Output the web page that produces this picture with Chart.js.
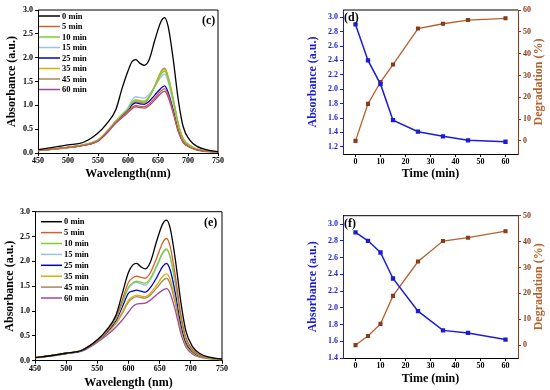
<!DOCTYPE html>
<html lang="en">
<head>
<meta charset="UTF-8">
<title>Absorbance and degradation</title>
<style>
  body{margin:0;background:#fff;}
  #wrap{position:relative;width:550px;height:390px;}
  canvas{position:absolute;}
</style>
</head>
<body>
<div id="wrap">
  <canvas id="c" width="275" height="195" style="left:0;top:0"></canvas>
  <canvas id="d" width="275" height="195" style="left:275px;top:0"></canvas>
  <canvas id="e" width="275" height="195" style="left:0;top:195px"></canvas>
  <canvas id="f" width="275" height="195" style="left:275px;top:195px"></canvas>
</div>
<script src="https://cdn.jsdelivr.net/npm/chart.js"></script>
<script>
// wavelengths (nm) where the spectra were read
const wl = [450,475,500,525,550,565,580,590,600,607,613,620,627,635,645,655,661,667,675,684,692,703,715,730,750]
const legendLabels = ['0 min','5 min','10 min','15 min','25 min','35 min','45 min','60 min']
const lineColors = ['#000000','#d2602a','#7ccf30','#9cc2ea','#0000d0','#d9b000','#a88662','#a0489a']

// panel (c)
const c0  = [0.07,0.12,0.17,0.22,0.42,0.62,0.92,1.35,1.72,1.92,1.96,1.88,1.84,1.95,2.38,2.76,2.84,2.65,2.00,1.10,0.55,0.27,0.14,0.07,0.03]
const c5  = [0.05,0.08,0.12,0.16,0.26,0.44,0.65,0.76,0.87,0.96,1.00,0.98,0.97,1.03,1.16,1.30,1.35,1.22,0.88,0.46,0.23,0.12,0.07,0.04,0.02]
const c10 = [0.05,0.08,0.12,0.17,0.27,0.45,0.67,0.80,0.92,1.07,1.12,1.10,1.09,1.18,1.40,1.65,1.72,1.55,1.12,0.58,0.29,0.15,0.08,0.04,0.02]
const c15 = [0.05,0.08,0.12,0.17,0.28,0.46,0.68,0.82,0.95,1.12,1.18,1.16,1.15,1.23,1.40,1.60,1.66,1.49,1.08,0.56,0.28,0.15,0.08,0.04,0.02]
const c25 = [0.05,0.08,0.12,0.16,0.26,0.44,0.66,0.78,0.90,1.01,1.05,1.03,1.02,1.08,1.22,1.36,1.41,1.27,0.92,0.48,0.24,0.13,0.07,0.04,0.02]
const c35 = [0.05,0.08,0.12,0.17,0.27,0.45,0.67,0.79,0.91,1.05,1.10,1.08,1.07,1.17,1.42,1.69,1.76,1.58,1.14,0.60,0.30,0.16,0.08,0.04,0.02]
const c45 = [0.05,0.08,0.12,0.17,0.27,0.45,0.66,0.78,0.90,1.03,1.08,1.06,1.05,1.16,1.42,1.71,1.78,1.60,1.16,0.61,0.30,0.16,0.08,0.04,0.02]
const c60 = [0.05,0.08,0.11,0.16,0.25,0.42,0.63,0.74,0.85,0.93,0.97,0.95,0.94,0.99,1.12,1.25,1.30,1.17,0.85,0.44,0.22,0.12,0.06,0.03,0.02]

// panel (e)
const e0  = [0.06,0.10,0.15,0.21,0.42,0.62,0.92,1.35,1.78,1.93,1.96,1.89,1.85,1.98,2.40,2.76,2.83,2.66,2.05,1.18,0.60,0.28,0.14,0.07,0.03]
const e5  = [0.06,0.10,0.15,0.21,0.41,0.60,0.88,1.22,1.58,1.67,1.70,1.68,1.66,1.77,2.06,2.38,2.46,2.29,1.72,0.93,0.47,0.22,0.11,0.06,0.03]
const e10 = [0.06,0.10,0.15,0.21,0.41,0.59,0.85,1.16,1.48,1.57,1.60,1.58,1.56,1.66,1.91,2.18,2.25,2.09,1.58,0.86,0.43,0.20,0.10,0.05,0.03]
const e15 = [0.06,0.10,0.15,0.21,0.41,0.59,0.85,1.15,1.46,1.55,1.58,1.55,1.52,1.63,1.88,2.16,2.23,2.07,1.56,0.85,0.42,0.20,0.10,0.05,0.03]
const e25 = [0.06,0.10,0.15,0.20,0.40,0.57,0.81,1.08,1.36,1.40,1.42,1.40,1.38,1.47,1.67,1.90,1.96,1.82,1.37,0.74,0.37,0.18,0.09,0.05,0.03]
const e35 = [0.06,0.10,0.15,0.20,0.39,0.55,0.76,0.98,1.22,1.29,1.32,1.30,1.29,1.36,1.52,1.70,1.75,1.63,1.23,0.67,0.33,0.16,0.08,0.04,0.02]
const e45 = [0.06,0.10,0.15,0.20,0.39,0.55,0.75,0.95,1.18,1.26,1.29,1.27,1.26,1.32,1.46,1.61,1.66,1.54,1.16,0.63,0.32,0.15,0.08,0.04,0.02]
const e60 = [0.06,0.09,0.14,0.19,0.37,0.51,0.68,0.82,0.98,1.09,1.14,1.15,1.16,1.22,1.33,1.42,1.45,1.35,1.02,0.55,0.28,0.13,0.07,0.04,0.02]

// panels (d) and (f)
const time = [0,5,10,15,25,35,45,60]
const dAbs = [2.90,2.40,2.07,1.57,1.41,1.345,1.29,1.27]
const dDeg = [0,17,27,35,51.5,53.7,55.4,56.2]
const fAbs = [2.90,2.80,2.66,2.35,1.96,1.73,1.70,1.62]
const fDeg = [0,3.5,8.2,19,32.3,40.2,41.5,44]

// tick labels
const nmTicks = [450,500,550,600,650,700,750]
const specTicks = [0,0.5,1.0,1.5,2.0,2.5,3.0]
const timeTicks = [0,10,20,30,40,50,60]
const dAbsTicks = [1.2,1.4,1.6,1.8,2.0,2.2,2.4,2.6,2.8,3.0]
const dDegTicks = [0,10,20,30,40,50,60]
const fAbsTicks = [1.4,1.6,1.8,2.0,2.2,2.4,2.6,2.8,3.0]
const fDegTicks = [0,10,20,30,40,50]

const serif = '"Liberation Serif", "Times New Roman", serif'
const tickFont = {family: serif, weight: 'bold', size: 8}
const titleFont = {family: serif, weight: 'bold', size: 12}
const blue = '#1c1cd6', brown = '#b5622e', brownDark = '#8b3a1a'

const extras = {
  id: 'extras',
  afterDraw(chart, args, o) {
    const ctx = chart.ctx, a = chart.chartArea
    ctx.save()
    ctx.strokeStyle = '#000'
    ctx.lineWidth = 1
    ctx.beginPath()
    ctx.moveTo(a.left, a.top)
    ctx.lineTo(a.right, a.top)
    if (o.rightLine) ctx.lineTo(a.right, a.bottom)
    ctx.stroke()
    ctx.textBaseline = 'middle'
    ctx.textAlign = 'left'
    ctx.fillStyle = '#000'
    ctx.font = 'bold 12px ' + serif
    ctx.fillText(o.tag, o.tagX, o.tagY)
    if (o.legend) {
      const L = o.legend
      ctx.font = 'bold 8.5px ' + serif
      chart.data.datasets.forEach((ds, i) => {
        const y = L.y + i * L.step
        ctx.strokeStyle = ds.borderColor
        ctx.lineWidth = 1.5
        ctx.beginPath()
        ctx.moveTo(L.x, y)
        ctx.lineTo(L.x + 21, y)
        ctx.stroke()
        ctx.fillStyle = '#000'
        ctx.fillText(ds.label, L.x + 23, y + 0.5)
      })
    }
    if (o.rightTitle) {
      ctx.translate(o.rightTitle.x, (a.top + a.bottom) / 2)
      ctx.rotate(-Math.PI / 2)
      ctx.textAlign = 'center'
      ctx.fillStyle = brown
      ctx.font = 'bold 12px ' + serif
      ctx.fillText(o.rightTitle.text, 0, 0)
    }
    ctx.restore()
  }
}

function axisGrid(color) {
  return {display: true, drawOnChartArea: false, drawTicks: true, tickLength: 3, color: color}
}

function spectrum(id, sets, o) {
  return new Chart(document.getElementById(id), {
    type: 'line',
    data: {
      datasets: sets.map((s, i) => ({
        label: legendLabels[i],
        data: wl.map((x, j) => ({x: x, y: s[j]})),
        borderColor: lineColors[i],
        borderWidth: 1.3,
        pointRadius: 0,
        cubicInterpolationMode: 'monotone',
        fill: false
      }))
    },
    options: {
      responsive: false,
      animation: false,
      layout: {padding: {top: o.top, right: o.right, left: 0, bottom: 0}},
      plugins: {
        legend: {display: false},
        tooltip: {enabled: false},
        extras: {tag: o.tag, tagX: o.tagX, tagY: o.tagY, rightLine: true, legend: o.legend}
      },
      scales: {
        x: {
          type: 'linear', min: 450, max: 750,
          afterBuildTicks: s => { s.ticks = nmTicks.map(v => ({value: v})) },
          afterFit: s => { s.height = o.xh },
          ticks: {font: tickFont, color: '#000', padding: 0, maxRotation: 0, autoSkip: false},
          grid: axisGrid('#000'),
          border: {color: '#000', width: 1},
          title: {display: true, text: o.xTitle, font: titleFont, color: '#000', padding: {top: 0, bottom: o.xPad}}
        },
        y: {
          min: 0, max: 3,
          afterBuildTicks: s => { s.ticks = specTicks.map(v => ({value: v})) },
          afterFit: s => { s.width = o.yw },
          ticks: {font: tickFont, color: '#000', padding: 2, callback: v => v.toFixed(1)},
          grid: axisGrid('#000'),
          border: {color: '#000', width: 1},
          title: {display: true, text: 'Absorbance (a.u.)', font: titleFont, color: '#000', padding: {top: o.yPad, bottom: 0}}
        }
      }
    },
    plugins: [extras]
  })
}

function timeChart(id, abs, deg, o) {
  return new Chart(document.getElementById(id), {
    type: 'line',
    data: {
      datasets: [
        {label: 'Absorbance', data: time.map((x, i) => ({x: x, y: abs[i]})), yAxisID: 'y',
         borderColor: blue, backgroundColor: blue, pointStyle: 'rect', pointRadius: 2, borderWidth: 1.5},
        {label: 'Degradation', data: time.map((x, i) => ({x: x, y: deg[i]})), yAxisID: 'y1',
         borderColor: brown, backgroundColor: brownDark, pointBorderColor: brownDark, pointStyle: 'rect', pointRadius: 2, borderWidth: 1.3}
      ]
    },
    options: {
      responsive: false,
      animation: false,
      layout: {padding: {top: o.top, right: 0, left: 30, bottom: 0}},
      plugins: {
        legend: {display: false},
        tooltip: {enabled: false},
        extras: {tag: o.tag, tagX: 69, tagY: o.tagY, rightLine: false, rightTitle: {x: 264, text: 'Degradation (%)'}}
      },
      scales: {
        x: {
          type: 'linear', min: -5, max: 65,
          afterBuildTicks: s => { s.ticks = timeTicks.map(v => ({value: v})) },
          afterFit: s => { s.height = o.xh },
          ticks: {font: tickFont, color: '#000', padding: 0, maxRotation: 0, autoSkip: false},
          grid: axisGrid('#000'),
          border: {color: '#000', width: 1},
          title: {display: true, text: 'Time (min)', font: titleFont, color: '#000', padding: {top: 0, bottom: o.xPad}}
        },
        y: {
          position: 'left', min: o.aMin, max: o.aMax,
          afterBuildTicks: s => { s.ticks = o.aTicks.map(v => ({value: v})) },
          afterFit: s => { s.width = 38 },
          ticks: {font: tickFont, color: blue, padding: 2, callback: v => v.toFixed(1)},
          grid: axisGrid(blue),
          border: {color: blue, width: 1},
          title: {display: true, text: 'Absorbance (a.u.)', font: titleFont, color: blue, padding: {top: 1, bottom: 0}}
        },
        y1: {
          position: 'right', min: o.dMin, max: o.dMax,
          afterBuildTicks: s => { s.ticks = o.dTicks.map(v => ({value: v})) },
          afterFit: s => { s.width = 32 },
          ticks: {font: tickFont, color: brownDark, padding: 2},
          grid: axisGrid(brownDark),
          border: {color: brownDark, width: 1}
        }
      }
    },
    plugins: [extras]
  })
}

spectrum('c', [c0, c5, c10, c15, c25, c35, c45, c60], {
  top: 10, right: 57, xh: 42, yw: 38, xPad: 14, yPad: 5,
  xTitle: 'Wavelength(nm)', tag: '(c)', tagX: 202, tagY: 21,
  legend: {x: 39, y: 16, step: 10.5}
})
spectrum('e', [e0, e5, e10, e15, e25, e35, e45, e60], {
  top: 16.7, right: 53, xh: 29.3, yw: 35, xPad: 0, yPad: 3,
  xTitle: 'Wavelength (nm)', tag: '(e)', tagX: 204, tagY: 27.5,
  legend: {x: 41, y: 26.7, step: 10.9}
})
timeChart('d', dAbs, dDeg, {
  top: 10, xh: 41, xPad: 13.8, tag: '(d)', tagY: 18,
  aMin: 1.1, aMax: 3.1, aTicks: dAbsTicks, dMin: -6, dMax: 60, dTicks: dDegTicks
})
timeChart('f', fAbs, fDeg, {
  top: 20.7, xh: 32, xPad: 3.8, tag: '(f)', tagY: 29,
  aMin: 1.4, aMax: 3.1, aTicks: fAbsTicks, dMin: -5, dMax: 50, dTicks: fDegTicks
})
</script>
</body>
</html>
